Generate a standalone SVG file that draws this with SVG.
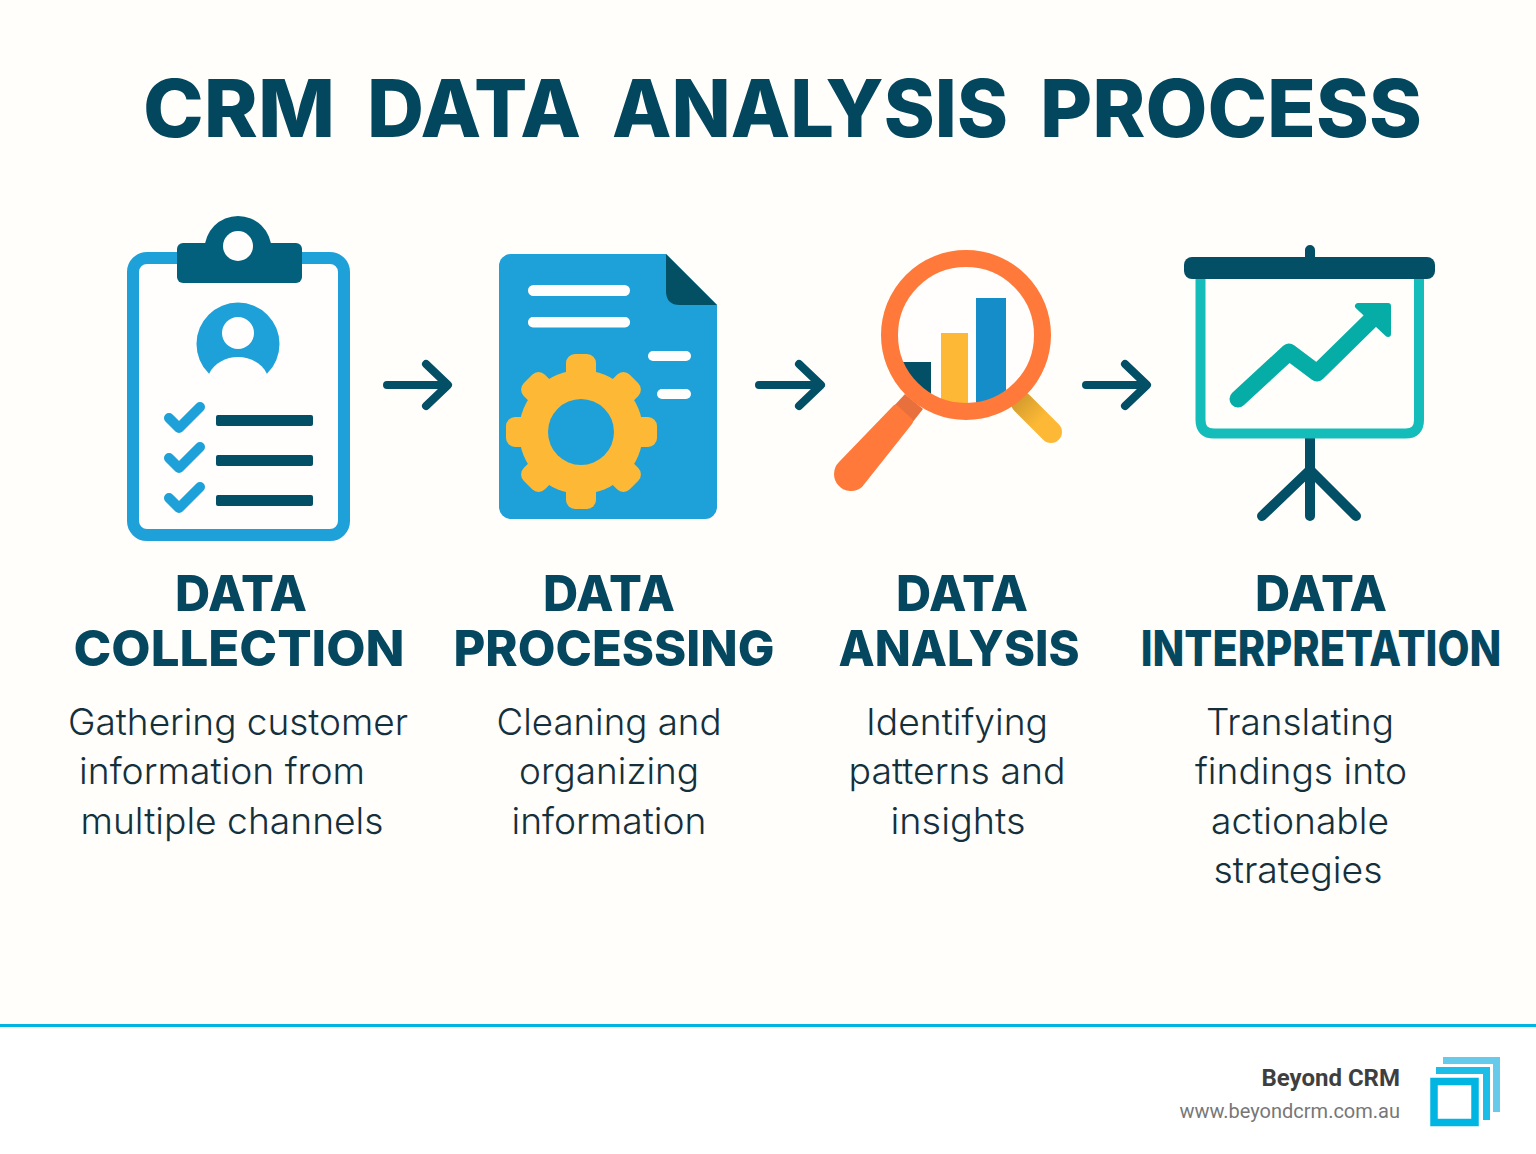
<svg xmlns="http://www.w3.org/2000/svg" width="1536" height="1154" viewBox="0 0 1536 1154">
<style>
.title{font-family:Inter,"Liberation Sans",sans-serif;font-weight:800;font-size:80px;fill:#03475e}
.head{font-family:Inter,"Liberation Sans",sans-serif;font-weight:800;font-size:50px;fill:#05475f;text-anchor:middle}
.body{font-family:Inter,"Liberation Sans",sans-serif;font-weight:350;font-size:37px;fill:#14303d;text-anchor:middle}
.dark{fill:#024f66}.blue{fill:#1ea0d8}.gold{fill:#fdb935}.white{fill:#fffefc}.clip{fill:#02607d}
.check{fill:none;stroke:#1ea0d8;stroke-width:10;stroke-linecap:round;stroke-linejoin:round}
.arrow{fill:none;stroke:#024f66;stroke-width:8;stroke-linecap:round;stroke-linejoin:round}
</style>
<defs>
<clipPath id="lens"><circle cx="966" cy="335" r="70"/></clipPath>
<linearGradient id="goldHandle" gradientUnits="userSpaceOnUse" x1="1018" y1="399" x2="1040" y2="421"><stop offset="0" stop-color="#d49c2e"/><stop offset="1" stop-color="#fdb935"/></linearGradient>
</defs>
<rect width="1536" height="1154" fill="#fffefb"/>
<rect y="1027" width="1536" height="127" fill="#ffffff"/>
<rect y="1024" width="1536" height="3" fill="#00b5e2"/>
<text class="title" y="137"><tspan x="143" textLength="192" lengthAdjust="spacingAndGlyphs">CRM</tspan> <tspan x="367" textLength="214" lengthAdjust="spacingAndGlyphs">DATA</tspan> <tspan x="612" textLength="396" lengthAdjust="spacingAndGlyphs">ANALYSIS</tspan> <tspan x="1040" textLength="382" lengthAdjust="spacingAndGlyphs">PROCESS</tspan></text>

<g id="connectors">
<path class="arrow" d="M387,385H447M426,364L448,385L426,406"/>
<path class="arrow" d="M759,385H820M799,364L821,385L799,406"/>
<path class="arrow" d="M1086,385H1146M1125,364L1147,385L1125,406"/>
</g>

<g id="node-collection">
<rect x="133" y="258" width="211" height="277" rx="14" fill="#fffefc" stroke="#1ea0d8" stroke-width="12"/>
<circle class="clip" cx="238" cy="249.500" r="33.500"/>
<rect class="clip" x="177" y="243" width="125" height="40" rx="6"/>
<circle class="white" cx="238" cy="246" r="15"/>
<circle class="blue" cx="238" cy="344" r="41.500"/>
<circle class="white" cx="238" cy="333" r="16"/>
<path class="white" d="M209,374C214,363 226,357 238,357C250,357 262,363 267,374C258,382 248,387 238,387C228,387 218,382 209,374Z"/>
<path class="check" d="M169,418L179,428L200,407"/>
<path class="check" d="M169,458L179,468L200,447"/>
<path class="check" d="M169,498L179,508L200,487"/>
<rect class="dark" x="216" y="415" width="97" height="11" rx="2"/>
<rect class="dark" x="216" y="455" width="97" height="11" rx="2"/>
<rect class="dark" x="216" y="495" width="97" height="11" rx="2"/>
<text class="head" x="241" y="611" textLength="132" lengthAdjust="spacingAndGlyphs">DATA</text>
<text class="head" x="239" y="666" textLength="331" lengthAdjust="spacingAndGlyphs">COLLECTION</text>
<text class="body" x="238" y="735" textLength="340" lengthAdjust="spacingAndGlyphs">Gathering customer</text>
<text class="body" x="222" y="784" textLength="286" lengthAdjust="spacingAndGlyphs">information from</text>
<text class="body" x="232" y="834" textLength="303" lengthAdjust="spacingAndGlyphs">multiple channels</text>
</g>

<g id="node-processing">
<path class="blue" d="M511,254H666L717,305V507A12,12 0 0 1 705,519H511A12,12 0 0 1 499,507V266A12,12 0 0 1 511,254Z"/>
<path d="M666,254L717,305H680Q666,305 666,291Z" fill="#034f63"/>
<rect class="white" x="528" y="285" width="102" height="11" rx="5.500"/>
<rect class="white" x="528" y="317" width="102" height="10.500" rx="5"/>
<rect class="white" x="648" y="351" width="43" height="10" rx="5"/>
<rect class="white" x="657" y="389" width="34" height="10" rx="5"/>
<g class="gold">
<circle cx="581" cy="432" r="62"/>
<rect x="566" y="354" width="30" height="155" rx="9"/>
<rect x="506" y="417" width="151" height="30" rx="9"/>
<rect x="566" y="357" width="30" height="150" rx="9" transform="rotate(45 581 432)"/>
<rect x="566" y="357" width="30" height="150" rx="9" transform="rotate(-45 581 432)"/>
</g>
<circle class="blue" cx="581" cy="432" r="33"/>
<text class="head" x="609" y="611" textLength="132" lengthAdjust="spacingAndGlyphs">DATA</text>
<text class="head" x="614" y="666" textLength="321" lengthAdjust="spacingAndGlyphs">PROCESSING</text>
<text class="body" x="609" y="735" textLength="225" lengthAdjust="spacingAndGlyphs">Cleaning and</text>
<text class="body" x="609" y="784" textLength="180" lengthAdjust="spacingAndGlyphs">organizing</text>
<text class="body" x="609" y="834" textLength="195" lengthAdjust="spacingAndGlyphs">information</text>
</g>

<g id="node-analysis">
<path d="M1022,403L1051,432" fill="none" stroke="url(#goldHandle)" stroke-width="22" stroke-linecap="round"/>
<circle cx="966" cy="335" r="70" fill="#fffefc"/>
<g clip-path="url(#lens)">
<rect x="895" y="362" width="36" height="60" fill="#024f66"/>
<rect x="941" y="333" width="27" height="90" fill="#fdb935"/>
<rect x="976" y="298" width="30" height="120" fill="#148dc8"/>
</g>
<path d="M905,394L923,409L912,423L893,407Z" fill="#e8703c"/>
<path d="M893,406L839,462A17,17 0 0 0 862,487L912,424Q914,421 912,419L898,406Q895,403 893,406Z" fill="#ff7a3a"/>
<circle cx="966" cy="335" r="76.500" fill="none" stroke="#ff7a3a" stroke-width="17"/>
<text class="head" x="962" y="611" textLength="132" lengthAdjust="spacingAndGlyphs">DATA</text>
<text class="head" x="959" y="666" textLength="241" lengthAdjust="spacingAndGlyphs">ANALYSIS</text>
<text class="body" x="957" y="735" textLength="182" lengthAdjust="spacingAndGlyphs">Identifying</text>
<text class="body" x="957" y="784" textLength="217" lengthAdjust="spacingAndGlyphs">patterns and</text>
<text class="body" x="958" y="834" textLength="135" lengthAdjust="spacingAndGlyphs">insights</text>
</g>

<g id="node-interpretation">
<path d="M1310,250V260M1310,436V516M1310,470L1262,516M1310,470L1356,516" fill="none" stroke="#024f66" stroke-width="10" stroke-linecap="round"/>
<path d="M1200.500,275V420Q1200.500,433.500 1214,433.500H1405.500Q1419,433.500 1419,420V275" fill="none" stroke="#14bdb9" stroke-width="10"/>
<rect class="dark" x="1184" y="257" width="251" height="22" rx="8"/>
<path d="M1238,399L1289,352L1317,373L1372,319" fill="none" stroke="#05ada6" stroke-width="17" stroke-linecap="round" stroke-linejoin="round"/>
<path d="M1358,306H1388V334Z" fill="#05ada6" stroke="#05ada6" stroke-width="6" stroke-linejoin="round"/>
<text class="head" x="1321" y="611" textLength="132" lengthAdjust="spacingAndGlyphs">DATA</text>
<text class="head" transform="translate(1321 666) scale(.83 1)" x="0" y="0">INTERPRETATION</text>
<text class="body" x="1300" y="735" textLength="188" lengthAdjust="spacingAndGlyphs">Translating</text>
<text class="body" x="1301" y="784" textLength="212" lengthAdjust="spacingAndGlyphs">findings into</text>
<text class="body" x="1300" y="834" textLength="178" lengthAdjust="spacingAndGlyphs">actionable</text>
<text class="body" x="1298" y="883" textLength="169" lengthAdjust="spacingAndGlyphs">strategies</text>
</g>

<g id="footer">
<text x="1400" y="1086" text-anchor="end" font-family="Roboto,'Liberation Sans',sans-serif" font-weight="700" font-size="24" fill="#3f3f3f">Beyond CRM</text>
<text x="1400" y="1118" text-anchor="end" font-family="Roboto,'Liberation Sans',sans-serif" font-size="20" fill="#777777">www.beyondcrm.com.au</text>
<path d="M1443,1060.500H1496.500V1112" fill="none" stroke="#66cbea" stroke-width="7"/>
<path d="M1436,1070.500H1486.500V1120" fill="none" stroke="#1cbde6" stroke-width="7"/>
<rect x="1434" y="1081.500" width="41" height="41" fill="#ffffff" stroke="#00b5e2" stroke-width="7.500"/>
</g>
</svg>
